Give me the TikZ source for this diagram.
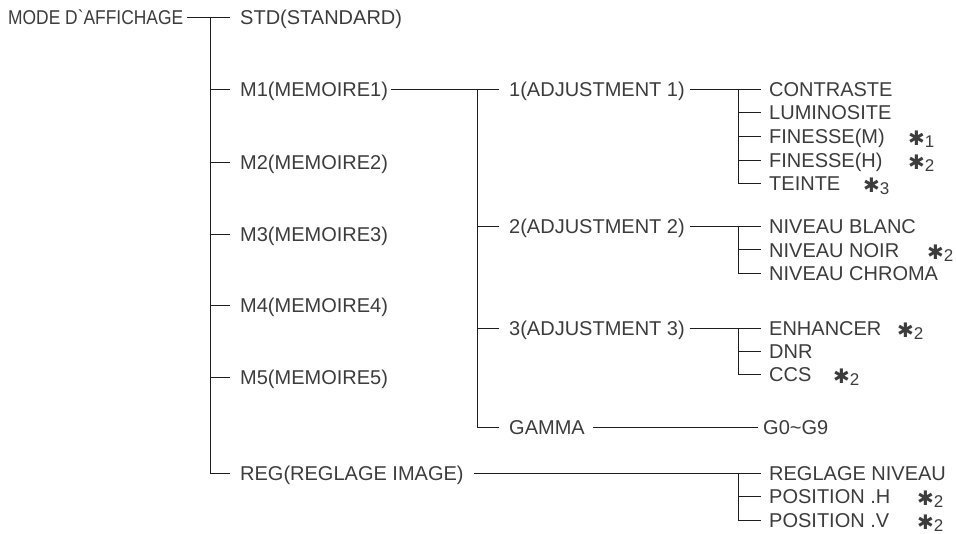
\documentclass[tikz,border=0pt]{standalone}
\usepackage{fontspec}
\setmainfont{Liberation Sans}
\newfontfamily\symfont{DejaVu Sans}
\usetikzlibrary{positioning}
\definecolor{ink}{RGB}{60,60,60}
\definecolor{wire}{RGB}{30,30,30}
\newcommand{\fnote}[1]{{\symfont\fontsize{20}{20}\selectfont\raisebox{-2pt}{✱}}{\fontsize{17}{17}\selectfont\raisebox{-4pt}{#1}}}

\begin{document}
\begin{tikzpicture}[x=1pt, y=-1pt,
  item/.style={anchor=west, inner sep=0pt, text height=14.3pt, text depth=0pt, font=\fontsize{20}{24}\selectfont, text=ink},
  note/.style={item},
  wire/.style={draw=wire, line width=0.9pt},
  lead/.style={wire, shorten >=10pt},
  leaf/.style={wire, shorten >=8pt}]
\useasboundingbox (0,0) rectangle (956,534);
% first level
\node[item] (mode) at (8,17) {\scalebox{0.87}[1]{MODE D\textasciigrave AFFICHAGE}};
\node[item] (std) at (240,17) {STD(STANDARD)};
\node[item] (m1) at (240,89) {M1(MEMOIRE1)};
\node[item] (m2) at (240,162) {M2(MEMOIRE2)};
\node[item] (m3) at (240,234) {M3(MEMOIRE3)};
\node[item] (m4) at (240,305) {M4(MEMOIRE4)};
\node[item] (m5) at (240,377) {M5(MEMOIRE5)};
\node[item] (reg) at (240,473) {REG(REGLAGE IMAGE)};
% memoire 1
\node[item] (adj1) at (509,89) {1(ADJUSTMENT 1)};
\node[item] (adj2) at (509,226.5) {2(ADJUSTMENT 2)};
\node[item] (adj3) at (509,328) {3(ADJUSTMENT 3)};
\node[item] (gamma) at (509,427) {GAMMA};
% leaves
\node[item] (contr) at (769,89) {CONTRASTE};
\node[item, below=9pt of contr.south west, anchor=north west] (lumi) {LUMINOSITE};
\node[item, below=9pt of lumi.south west, anchor=north west] (finm) {FINESSE(M)};
\node[item, below=9pt of finm.south west, anchor=north west] (finh) {FINESSE(H)};
\node[item, below=9pt of finh.south west, anchor=north west] (teinte) {TEINTE};
\node[item] (blanc) at (769,226.5) {NIVEAU BLANC};
\node[item, below=8.7pt of blanc.south west, anchor=north west] (noir) {NIVEAU NOIR};
\node[item, below=8.7pt of noir.south west, anchor=north west] (chroma) {NIVEAU CHROMA};
\node[item] (enh) at (769,328) {ENHANCER};
\node[item, below=8.7pt of enh.south west, anchor=north west] (dnr) {DNR};
\node[item, below=8.7pt of dnr.south west, anchor=north west] (ccs) {CCS};
\node[item] (g09) at (763,427) {G0\textasciitilde G9};
\node[item] (rniv) at (769,473) {REGLAGE NIVEAU};
\node[item, below=9pt of rniv.south west, anchor=north west] (posh) {POSITION .H};
\node[item, below=9pt of posh.south west, anchor=north west] (posv) {POSITION .V};
% notes
\node[note] (n1) at (908,0 |- finm) {\fnote{1}};
\node[note] (n2) at (908,0 |- finh) {\fnote{2}};
\node[note] (n3) at (863,0 |- teinte) {\fnote{3}};
\node[note] (n4) at (927,0 |- noir) {\fnote{2}};
\node[note] (n5) at (897,0 |- enh) {\fnote{2}};
\node[note] (n6) at (833,0 |- ccs) {\fnote{2}};
\node[note] (n7) at (917,0 |- posh) {\fnote{2}};
\node[note] (n8) at (917,0 |- posv) {\fnote{2}};
% bars
\coordinate (j0) at (210,17);
\coordinate (j1) at (477,89);
\coordinate (j2) at (738,89);
\coordinate (j3) at (738,226.5);
\coordinate (j4) at (738,328);
\coordinate (j5) at (738,473);
\draw[lead, shorten <=4pt] (mode) -- (std);
\draw[lead] (j0) |- (reg);
\foreach \n in {m1,m2,m3,m4,m5} \draw[lead] (j0 |- \n) -- (\n);
\draw[lead, shorten <=3pt] (m1) -- (adj1);
\draw[lead] (j1) |- (gamma);
\foreach \n in {adj2,adj3} \draw[lead] (j1 |- \n) -- (\n);
\draw[leaf, shorten <=5pt] (adj1) -- (contr);
\draw[leaf] (j2) |- (teinte);
\foreach \n in {lumi,finm,finh} \draw[leaf] (j2 |- \n) -- (\n);
\draw[leaf, shorten <=5pt] (adj2) -- (blanc);
\draw[leaf] (j3) |- (chroma);
\draw[leaf] (j3 |- noir) -- (noir);
\draw[leaf, shorten <=5pt] (adj3) -- (enh);
\draw[leaf] (j4) |- (ccs);
\draw[leaf] (j4 |- dnr) -- (dnr);
\draw[wire, shorten <=8pt, shorten >=5pt] (gamma) -- (g09);
\draw[leaf, shorten <=10pt] (reg) -- (rniv);
\draw[leaf] (j5) |- (posv);
\draw[leaf] (j5 |- posh) -- (posh);
\end{tikzpicture}
\end{document}
